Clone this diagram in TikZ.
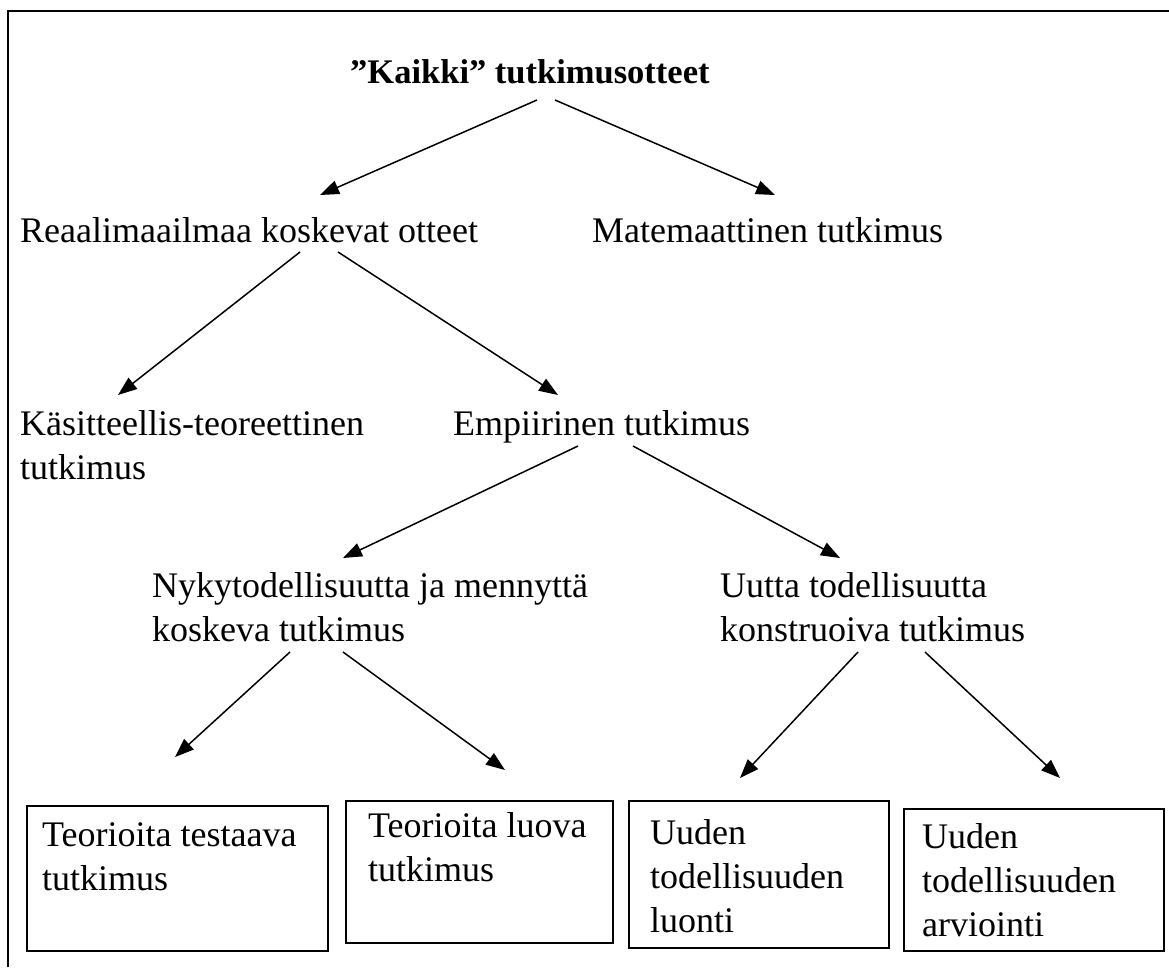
\documentclass[tikz,border=0pt]{standalone}
\usepackage{fontspec}
\setmainfont{Liberation Serif}
\usetikzlibrary{arrows.meta,calc}
\newcommand\firstline{\rule{0pt}{32pt}}
\tikzset{
  lbl/.style={anchor=north west, inner sep=0pt, align=left,
    font=\fontsize{36}{44}\selectfont},
  arr/.style={line width=1.5pt, -{Triangle[length=19pt,width=14pt]}},
  leafbox/.style={draw, line width=1.7pt, anchor=north west, inner sep=0pt},
}
\begin{document}
\begin{tikzpicture}[x=1pt,y=-1pt]
\useasboundingbox (0,0) rectangle (1169,967);
% open page frame
\draw[line width=2.6pt] (8,967) -- (8,11) -- (1169,11);

% text levels
\node[lbl, font=\fontsize{34.5}{44}\selectfont\bfseries] (all) at (350,51) {\firstline ”Kaikki” tutkimusotteet};
\node[lbl] (real) at (20,210) {\firstline Reaalimaailmaa koskevat otteet};
\node[lbl] (math) at (592,210) {\firstline Matemaattinen tutkimus};
\node[lbl] (conc) at (20,403) {\firstline Käsitteellis-teoreettinen\\tutkimus};
\node[lbl] (emp) at (453,403) {\firstline Empiirinen tutkimus};
\node[lbl] (now) at (152,565) {\firstline Nykytodellisuutta ja mennyttä\\koskeva tutkimus};
\node[lbl] (new) at (720,565) {\firstline Uutta todellisuutta\\konstruoiva tutkimus};

% leaf boxes
\node[leafbox, minimum width=301pt, minimum height=145pt] (b1) at (26,805) {};
\node[leafbox, minimum width=267pt, minimum height=142pt] (b2) at (345,800) {};
\node[leafbox, minimum width=260pt, minimum height=147pt] (b3) at (628,800) {};
\node[leafbox, minimum width=260pt, minimum height=142pt] (b4) at (903,808) {};
\node[lbl] (t1) at (42,814) {\firstline Teorioita testaava\\tutkimus};
\node[lbl] (t2) at (368,805) {\firstline Teorioita luova\\tutkimus};
\node[lbl] (t3) at (650,812) {\firstline Uuden\\todellisuuden\\luonti};
\node[lbl] (t4) at (922,816) {\firstline Uuden\\todellisuuden\\arviointi};

% connectors
\draw[arr] ($(all.north west)+(187,49)$) -- ($(real.north west)+(300,-15)$);
\draw[arr] ($(all.north west)+(205,49)$) -- ($(math.north west)+(183,-15)$);
\draw[arr] ($(real.north west)+(280,42)$) -- ($(conc.north west)+(98,-8)$);
\draw[arr] ($(real.north west)+(318,42)$) -- ($(emp.north west)+(105,-8)$);
\draw[arr] ($(emp.north west)+(125,43)$) -- ($(now.north west)+(191,-7)$);
\draw[arr] ($(emp.north west)+(180,43)$) -- ($(new.north west)+(120,-7)$);
\draw[arr] ($(now.north west)+(138,87)$) -- ($(b1.north west)+(149,-48)$);
\draw[arr] ($(now.north west)+(191,87)$) -- ($(b2.north west)+(160,-30)$);
\draw[arr] ($(new.north west)+(138,87)$) -- ($(b3.north west)+(112,-22)$);
\draw[arr] ($(new.north west)+(205,87)$) -- ($(b4.north west)+(157,-30)$);
\end{tikzpicture}
\end{document}
